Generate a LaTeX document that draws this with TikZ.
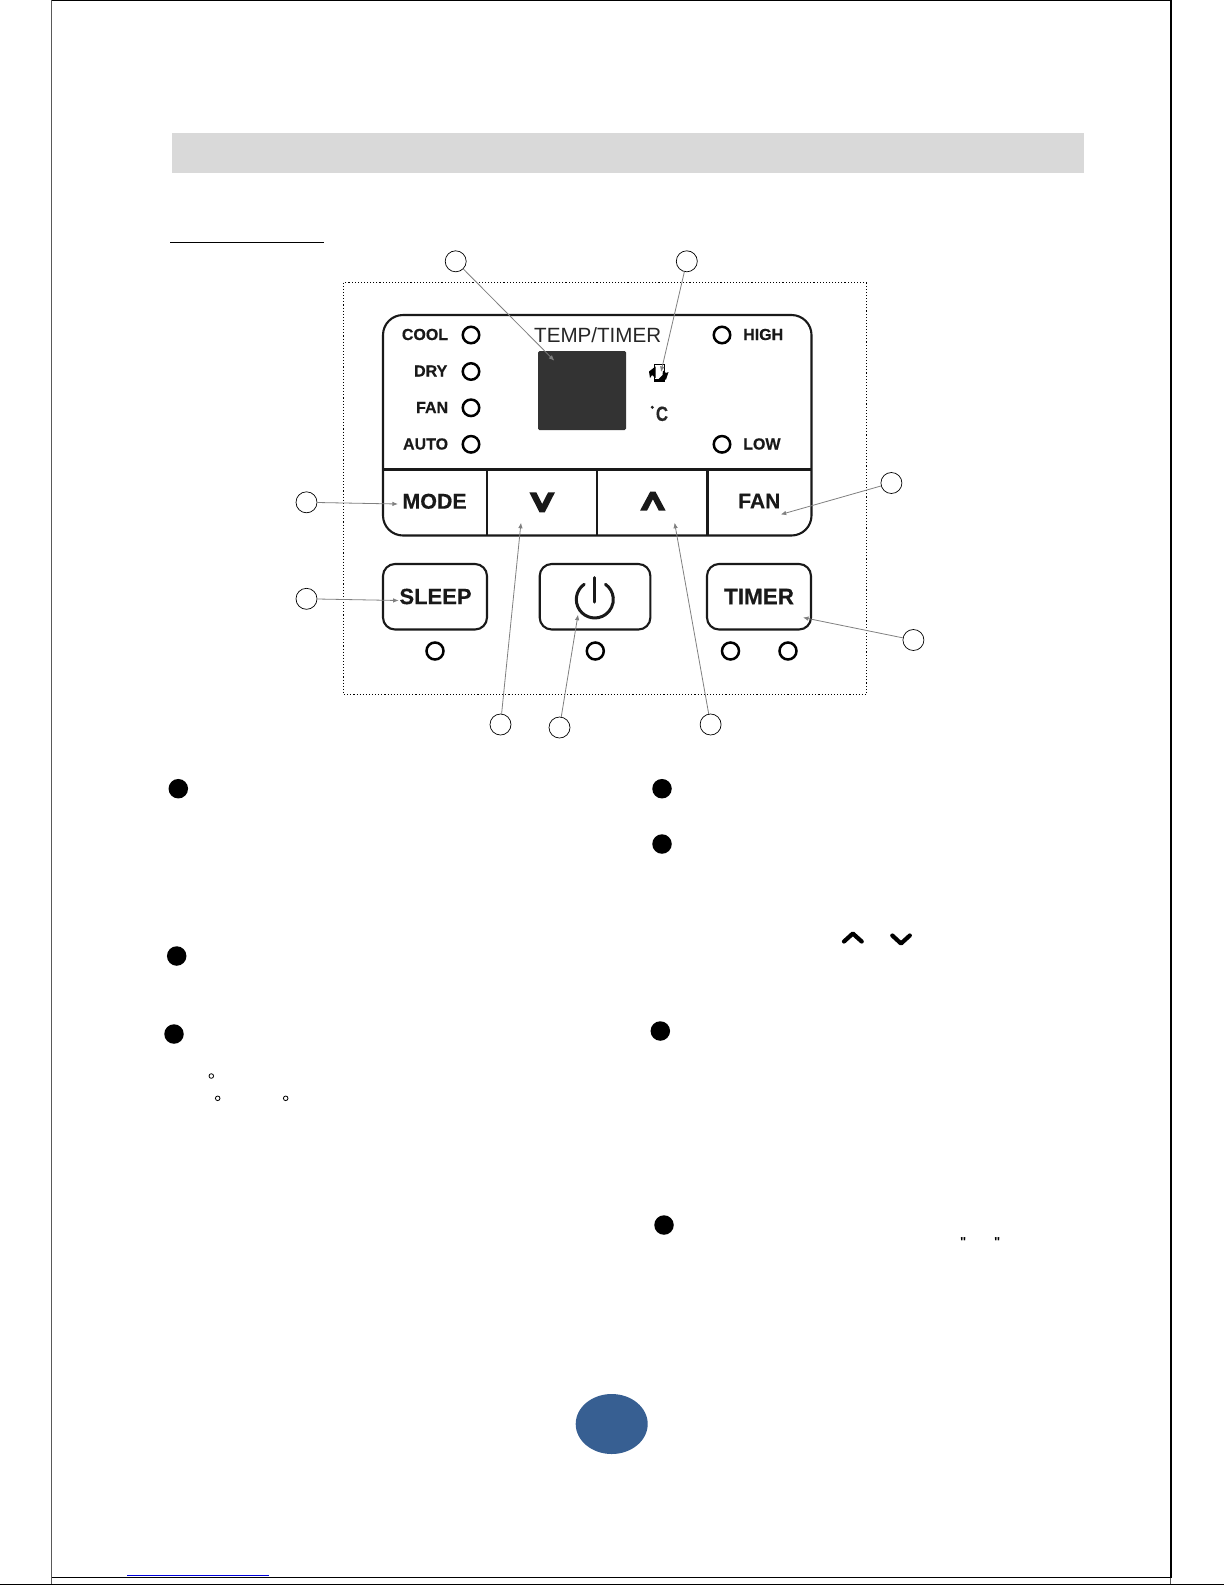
\documentclass[tikz,border=0pt]{standalone}
\usepackage{fontspec}
\setmainfont{Liberation Sans}[BoldFeatures={FakeBold=0.4}]
\newfontfamily\qfont{Liberation Sans Bold}
\usetikzlibrary{arrows.meta}
\tikzset{
  x=1pt,y=-1pt,
  panelline/.style={draw=black!90,line width=2.1pt},
  led/.style={circle,draw=black,line width=2.5pt,minimum size=16.5pt,inner sep=0pt},
  ledlabel/.style={font=\bfseries\fontsize{16}{16}\selectfont,text=black!90,inner sep=0pt},
  keylabel/.style={font=\bfseries\fontsize{22}{24}\selectfont,text=black!90,inner sep=0pt},
  callout/.style={circle,draw=black,line width=0.7pt,minimum size=21pt,inner sep=0pt,fill=white},
  leader/.style={draw=black!50,line width=0.8pt,-{Latex[length=5.5pt,width=4.5pt]}},
  bullet/.style={circle,fill=black,minimum size=19.5pt,inner sep=0pt},
  deg/.style={circle,draw=black,line width=0.8pt,minimum size=4.6pt,inner sep=0pt},
  chev/.style={line width=4.2pt,line cap=round,line join=round},
  pageline/.style={draw=black,line width=1.1pt}
}
\begin{document}
\begin{tikzpicture}
\useasboundingbox (0,0) rectangle (1225,1585);
\fill[white] (0,0) rectangle (1225,1585);
% page frame
\draw[draw=black!65,line width=1pt] (51.7,0) -- (51.7,1585);
\draw[pageline,line width=1.7pt] (1170.7,0) -- (1170.7,1577.3);
\draw[draw=black!65,line width=1pt] (1170.7,1577.3) -- (1170.7,1584.3);
\draw[pageline] (51.7,0.5) -- (1171.5,0.5);
\draw[pageline] (51.7,1577.3) -- (1171.5,1577.3);
\draw[pageline] (0,1584.3) -- (1224,1584.3);
\draw[draw=blue!85!black,line width=1.4pt] (127.3,1575.5) -- (269,1575.5);
% heading band
\fill[black!15] (172,132.5) rectangle (1084,173);
\draw[black,line width=0.9pt] (170,242.6) -- (323.5,242.6);
% dotted frame
\draw[black,line width=1.1pt,dash pattern=on 1.1pt off 2pt] (343.6,282.7) rectangle (866.3,694.5);
% panel
\draw[panelline,rounded corners=20pt] (383,315) rectangle (811.5,535.5);
\draw[panelline] (383,469.5) -- (811.5,469.5);
\draw[panelline] (487.2,469.5) -- (487.2,535.5);
\draw[panelline] (597.2,469.5) -- (597.2,535.5);
\draw[panelline] (707.5,469.5) -- (707.5,535.5);
% indicators
\node[led] (lcool) at (471,335) {};
\node[led] (ldry) at (471,371.5) {};
\node[led] (lfan) at (471,407.8) {};
\node[led] (lauto) at (471,444.3) {};
\node[led] (lhigh) at (722,335) {};
\node[led] (llow) at (722,444.3) {};
\node[ledlabel,anchor=east] (tcool) at (448.3,334.5) {COOL};
\node[ledlabel,anchor=east] (tdry) at (447.5,371) {DRY};
\node[ledlabel,anchor=east] (tfan) at (448.3,407.5) {FAN};
\node[ledlabel,anchor=east] (tauto) at (448.3,444) {AUTO};
\node[ledlabel,anchor=west] (thigh) at (743,334.5) {HIGH};
\node[ledlabel,anchor=west] (tlow) at (743,444) {LOW};
\node[font=\fontsize{20.6}{22}\selectfont,text=black!85,inner sep=0pt] (ttemp) at (597.7,335) {TEMP/TIMER};
% display
\fill[fill=black!80,rounded corners=1.5pt] (538,351) rectangle (626,430);
% fan icon
\draw[black,line width=1pt,fill=white] (654,364) rectangle (664.3,381.5);
\fill[black] (655.5,366.5) -- (649,371.5) -- (650,378) -- (652,375) -- (655.5,378) -- cycle;
\fill[black] (658,379.5) -- (666,379.5) -- (668.5,372) -- (666,373) -- (663,370.5) -- (662.5,375) -- cycle;
\fill[black] (654,379) rectangle (664.3,382);
% degree C
\fill[black!85] (652.3,407.3) circle (1.7pt);
\node[font=\bfseries\fontsize{20.5}{22}\selectfont,text=black!85,inner sep=0pt,xscale=0.82] (tc) at (662,413.8) {C};
% keys row 1
\node[keylabel,font=\bfseries\fontsize{21.4}{24}\selectfont] (tmode) at (434.6,501.3) {MODE};
\node[keylabel,font=\bfseries\fontsize{21}{24}\selectfont] (tfankey) at (759.3,501) {FAN};
\fill[black!90] (529.3,492.3) -- (536.3,492.3) -- (542.2,504) -- (548.1,492.3) -- (555,492.3) -- (544.8,512.3) -- (539.5,512.3) -- cycle;
\fill[black!90] (640,510.7) -- (647,510.7) -- (652.9,499.2) -- (658.8,510.7) -- (665.7,510.7) -- (655.5,491.7) -- (650.2,491.7) -- cycle;
% keys row 2
\draw[panelline,rounded corners=12pt] (383,564) rectangle (487,629.5);
\draw[panelline,rounded corners=12pt] (539.7,564) rectangle (650.4,629.5);
\draw[panelline,rounded corners=12pt] (707,564) rectangle (811,629.5);
\node[keylabel] (tsleep) at (435.5,596.5) {SLEEP};
\node[keylabel,font=\bfseries\fontsize{22.5}{24}\selectfont] (ttimer) at (759,596.5) {TIMER};
\draw[black!90,line width=3pt,line cap=round] (594.8,577.5) -- (594.8,602);
\draw[black!90,line width=3pt,line cap=round] (584.2,584.3) arc[start angle=125,end angle=415,x radius=18.5pt,y radius=18.5pt];
\node[led,minimum size=17pt] (lsleep) at (435,651) {};
\node[led,minimum size=17pt] (lpower) at (595.3,651) {};
\node[led,minimum size=17pt] (lt1) at (730.5,651) {};
\node[led,minimum size=17pt] (lt2) at (788,651) {};
% callouts
\node[callout] (c1) at (455.7,261.3) {};
\node[callout] (c2) at (686.8,261.3) {};
\node[callout] (c3) at (306.5,502.3) {};
\node[callout] (c4) at (306.5,598.8) {};
\node[callout] (c5) at (891.4,483) {};
\node[callout] (c6) at (913.4,640) {};
\node[callout] (c7) at (500.5,724.5) {};
\node[callout] (c8) at (559.5,727.5) {};
\node[callout] (c9) at (710.6,724.5) {};
\coordinate (p1) at (554.3,360.7);
\coordinate (p2) at (661,372);
\coordinate (p3) at (397.9,504);
\coordinate (p4) at (398.7,600.5);
\coordinate (p5) at (780.7,514.5);
\coordinate (p6) at (803,617.5);
\coordinate (p7) at (521,522.7);
\coordinate (p8) at (578,614.7);
\coordinate (p9) at (674.6,522.7);
\foreach \i in {1,...,9} {\draw[leader] (c\i) -- (p\i);}
% bullets
\node[bullet] (b1) at (178.3,788.7) {};
\node[bullet] (b2) at (176.7,956) {};
\node[bullet] (b3) at (174,1034) {};
\node[bullet] (b4) at (662,788.7) {};
\node[bullet] (b5) at (662,844) {};
\node[bullet] (b6) at (660.3,1031) {};
\node[bullet] (b7) at (664,1225) {};
\node[deg] (d1) at (211.3,1076) {};
\node[deg] (d2) at (217.7,1098.3) {};
\node[deg] (d3) at (285.7,1098.3) {};
% inline chevrons and quotes
\draw[chev] (844,941.5) -- (852.8,933.5) -- (861.7,941.5);
\draw[chev] (892.3,935.5) -- (901,943.5) -- (909.8,935.5);
\node[font=\qfont\fontsize{13}{14}\selectfont,inner sep=0pt,anchor=base] (q1) at (963.3,1246.8) {"};
\node[font=\qfont\fontsize{13}{14}\selectfont,inner sep=0pt,anchor=base] (q2) at (997.3,1246.8) {"};
% page number oval
\fill[fill={rgb,255:red,55;green,95;blue,146}] (611.7,1424) ellipse[x radius=36pt,y radius=30pt];
\end{tikzpicture}
\end{document}
